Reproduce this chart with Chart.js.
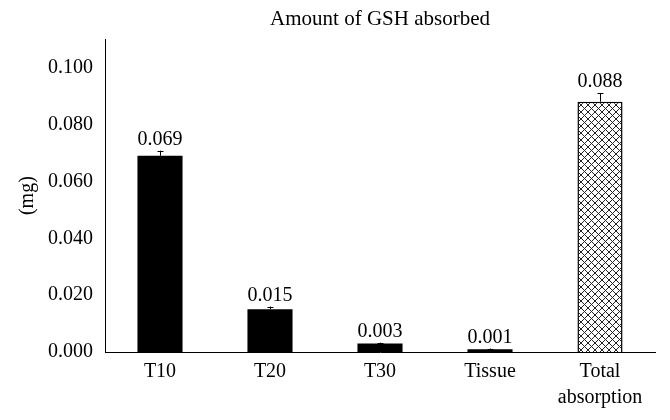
<!DOCTYPE html>
<html>
<head>
<meta charset="utf-8">
<script src="https://cdn.jsdelivr.net/npm/chart.js@4"></script>
<style>
  body { margin: 0; background: #fff; }
</style>
</head>
<body>
<canvas id="chart" width="670" height="420"></canvas>
<script>
const categories = ['T10', 'T20', 'T30', 'Tissue', ['Total', 'absorption']];
const amounts = [0.069, 0.015, 0.003, 0.001, 0.088];
const errors = [0.0018, 0.001, 0.0003, 0.0002, 0.003];
const valueLabels = ['0.069', '0.015', '0.003', '0.001', '0.088'];
const yTicks = [0, 0.02, 0.04, 0.06, 0.08, 0.1];

const FONT = '"Liberation Serif", "DejaVu Serif", serif';

// crosshatch for the total bar
const makeHatch = () => {
    const c = document.createElement('canvas');
    c.width = 7; c.height = 7;
    const g = c.getContext('2d');
    g.fillStyle = '#fff';
    g.fillRect(0, 0, 7, 7);
    g.strokeStyle = '#222';
    g.lineWidth = 1;
    g.beginPath();
    g.moveTo(0, 0); g.lineTo(7, 7);
    g.moveTo(7, 0); g.lineTo(0, 7);
    g.stroke();
    return document.getElementById('chart').getContext('2d').createPattern(c, 'repeat');
};
const hatch = makeHatch();

const errorAndLabels = {
    id: 'errorAndLabels',
    afterDatasetsDraw(chart) {
        const ctx = chart.ctx;
        const y = chart.scales.y;
        const meta = chart.getDatasetMeta(0);
        ctx.save();
        ctx.strokeStyle = '#000';
        ctx.lineWidth = 1;
        ctx.fillStyle = '#000';
        ctx.font = '20px ' + FONT;
        ctx.textAlign = 'center';
        ctx.textBaseline = 'bottom';
        meta.data.forEach((bar, i) => {
            const x = Math.round(bar.x) + 0.5;
            const top = y.getPixelForValue(amounts[i]);
            const cap = y.getPixelForValue(amounts[i] + errors[i]);
            ctx.beginPath();
            ctx.moveTo(x, top);
            ctx.lineTo(x, cap);
            ctx.moveTo(x - 3, Math.round(cap) + 0.5);
            ctx.lineTo(x + 3, Math.round(cap) + 0.5);
            ctx.stroke();
            ctx.fillText(valueLabels[i], bar.x, cap - 1);
        });
        ctx.restore();
    }
};

new Chart(document.getElementById('chart'), {
    type: 'bar',
    data: {
        labels: categories,
        datasets: [{
            data: amounts,
            backgroundColor: ['#000', '#000', '#000', '#000', hatch],
            borderColor: '#000',
            borderWidth: [0, 0, 0, 0, 1.5],
            barPercentage: 0.41,
            categoryPercentage: 1
        }]
    },
    options: {
        responsive: false,
        animation: false,
        layout: { padding: { left: 12, right: 15, top: 0, bottom: 0 } },
        plugins: {
            legend: { display: false },
            tooltip: { enabled: false },
            title: {
                display: true,
                fullSize: false,
                text: 'Amount of GSH absorbed',
                color: '#000',
                font: { family: FONT, size: 21, weight: 'normal' },
                padding: { top: 7, bottom: 7 }
            }
        },
        scales: {
            x: {
                grid: { display: false },
                border: { display: true, color: '#000', width: 1 },
                ticks: { color: '#000', font: { family: FONT, size: 20, lineHeight: 1.3 }, padding: -1, maxRotation: 0 },
                afterFit: s => { s.height = 68; }
            },
            y: {
                min: 0,
                max: 0.11,
                grid: { display: false, drawTicks: false },
                border: { display: true, color: '#000', width: 1 },
                afterBuildTicks: s => { s.ticks = yTicks.map(v => ({ value: v })); },
                ticks: {
                    color: '#000',
                    font: { family: FONT, size: 20 },
                    padding: 12,
                    callback: v => v.toFixed(3)
                },
                title: {
                    display: true,
                    text: '(mg)',
                    color: '#000',
                    font: { family: FONT, size: 20 },
                    padding: 4
                },
                afterFit: s => { s.width = 93; }
            }
        }
    },
    plugins: [errorAndLabels]
});
</script>
</body>
</html>
